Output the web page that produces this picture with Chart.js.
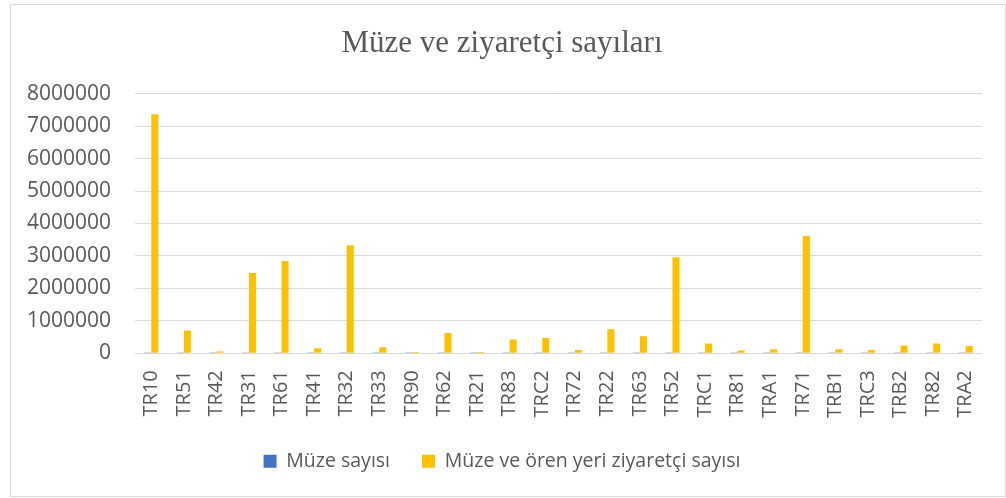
<!DOCTYPE html>
<html>
<head>
<meta charset="utf-8">
<script src="https://cdn.jsdelivr.net/npm/chart.js@4"></script>
<style>
  html, body { margin:0; padding:0; background:#fff; }
  #wrap { position:relative; width:1006px; height:498px; }
  #frame {
    position:absolute; left:10px; top:4px; width:996px; height:493px;
    border:1px solid #d9d9d9; box-sizing:border-box; pointer-events:none;
  }
</style>
</head>
<body>
<div id="wrap">
  <canvas id="museumChart" width="1006" height="498"></canvas>
  <div id="frame"></div>
</div>
<script>
/* =========================================================
   DATA
========================================================= */

const regions = [
  "TR10","TR51","TR42","TR31","TR61","TR41","TR32","TR33","TR90",
  "TR62","TR21","TR83","TRC2","TR72","TR22","TR63","TR52","TRC1",
  "TR81","TRA1","TR71","TRB1","TRC3","TRB2","TR82","TRA2"
];

// too small to see at this scale
const museumCount = [
  90, 25, 12, 30, 35, 18, 28, 14, 10,
  20, 9, 16, 22, 12, 24, 18, 26, 14,
  8, 10, 20, 12, 8, 14, 16, 10
];

const visitorCount = [
  7370000, 700000, 50000, 2470000, 2840000, 150000, 3330000, 185000, 40000,
  620000, 40000, 420000, 470000, 100000, 740000, 520000, 2960000, 300000,
  80000, 120000, 3610000, 120000, 100000, 240000, 300000, 220000
];

const yTicks = [0,1000000,2000000,3000000,4000000,5000000,6000000,7000000,8000000];

/* =========================================================
   CHART
========================================================= */

const textColor = "#595959";
const gridColor = "#d9d9d9";

const ctx =
  document
    .getElementById("museumChart")
    .getContext("2d");

new Chart(ctx, {

  type:"bar",

  data:{
    labels:regions,
    datasets:[
      {
        label:"Müze sayısı",
        data:museumCount,
        backgroundColor:"#4472c4",
        inflateAmount:0,
        categoryPercentage:.43,
        barPercentage:1
      },
      {
        label:"Müze ve ören yeri ziyaretçi sayısı",
        data:visitorCount,
        backgroundColor:"#ffc000",
        categoryPercentage:.43,
        barPercentage:1
      }
    ]
  },

  options:{

    responsive:false,

    animation:false,

    layout:{
      padding:{ left:22, right:24, top:0, bottom:17 }
    },

    plugins:{
      title:{
        display:true,
        text:"Müze ve ziyaretçi sayıları",
        color:textColor,
        font:{ family:"Liberation Serif", size:31, weight:"normal" },
        padding:{ top:25.4, bottom:31.1 }
      },
      legend:{
        position:"bottom",
        labels:{
          color:textColor,
          boxWidth:13,
          boxHeight:13,
          padding:32,
          font:{ family:"Open Sans", size:19.5 }
        }
      },
      tooltip:{ enabled:false }
    },

    scales:{

      x:{
        grid:{ display:false },
        border:{ display:false },
        ticks:{
          color:textColor,
          autoSkip:false,
          minRotation:90,
          maxRotation:90,
          padding:9,
          font:{ family:"Open Sans", size:20 }
        },
        afterFit:(scale)=>{ scale.height = 66.3; }
      },

      y:{
        min:0,
        max:8000000,
        afterBuildTicks:(scale)=>{
          scale.ticks = yTicks.map(v=>({ value:v }));
        },
        grid:{
          color:gridColor,
          lineWidth:1,
          drawTicks:false
        },
        border:{ display:false },
        ticks:{
          color:textColor,
          padding:24,
          font:{ family:"Open Sans", size:21 },
          callback:(v)=>String(v)
        },
        afterFit:(scale)=>{ scale.width = 113; }
      }

    }

  }

});
</script>
</body>
</html>
